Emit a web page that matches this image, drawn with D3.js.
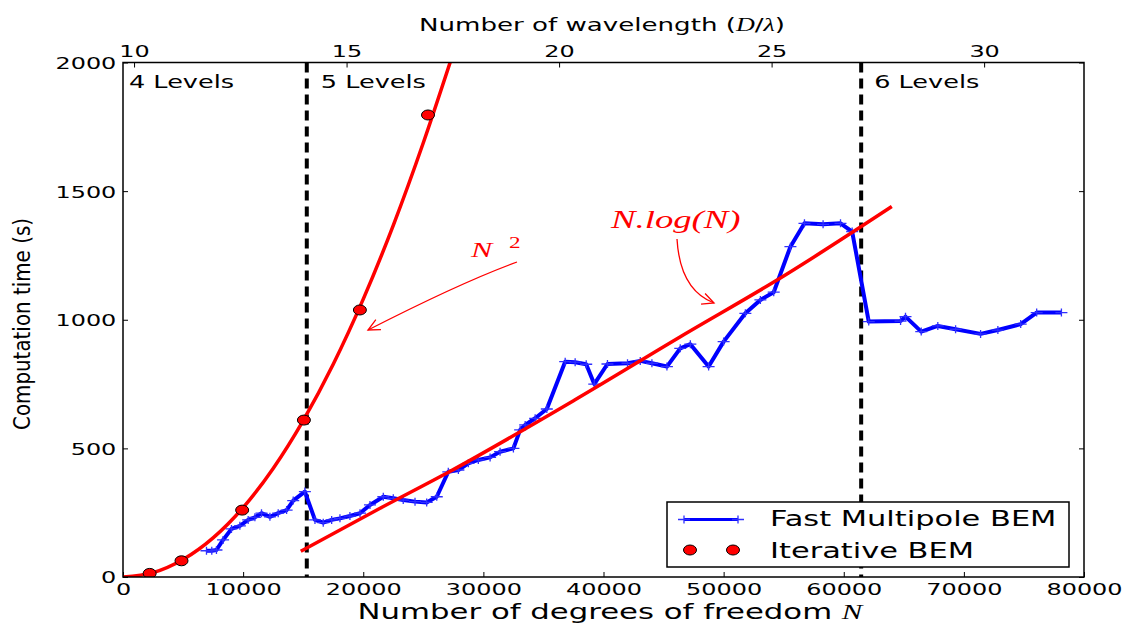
<!DOCTYPE html>
<html>
<head>
<meta charset="utf-8">
<script src="https://cdn.jsdelivr.net/npm/d3@7"></script>
<style>
  body { margin: 0; background: #fff; }
  text { font-family: "DejaVu Sans"; }
</style>
</head>
<body>
<svg id="chart" width="1129" height="625"></svg>
<script>
// Fast Multipole BEM timings (degrees of freedom, seconds)
var fmmN = [6950, 7390, 7780, 8330, 9030, 9730, 10420, 10980, 11530, 12230, 12920, 13620, 14170, 15140,
  15980, 16670, 17370, 18060, 18890, 19730, 20560, 21670, 22500, 23330, 24310, 25280, 26120,
  27080, 27920, 28750, 29580, 30560, 31390, 32500, 33060, 33480, 34310, 35280,
  36810, 37640, 38560, 39230, 40330, 42000, 43060, 44030, 45280, 46390, 47230, 48750,
  50000, 51810, 53060, 54170, 55560, 56730, 58280, 59730, 60700,
  62080, 64730, 65140, 66450, 67830, 69310, 71390, 72830, 74730, 76060, 78120];
var fmmTime = [102, 102, 105, 144, 187, 199, 222, 232, 248, 234, 248, 260, 297, 332,
  222, 211, 222, 228, 237, 248, 280, 312, 306, 299, 293, 290, 312,
  409, 416, 442, 455, 465, 487, 500, 572, 591, 617, 653,
  837, 835, 827, 750, 828, 831, 840, 831, 818, 889, 905, 818,
  915, 1025, 1077, 1107, 1284, 1375, 1371, 1375, 1343,
  993, 995, 1012, 954, 976, 963, 945, 960, 983, 1028, 1028];

// Iterative BEM timings
var iterN = [2220, 4870, 9920, 15060, 19720, 25390];
var iterTime = [14, 63, 260, 610, 1038, 1796];

// N^2 trend curve
var sqN = [0, 2500, 5000, 7500, 10000, 12500, 15000, 17500, 20000, 22500, 25000, 27300];
var sqTime = [0, 17, 68, 152, 270, 422, 608, 827, 1080, 1367, 1688, 2010];

// N.log(N) trend line
var nlN = [14800, 21400, 27200, 37600, 46400, 55000, 64000];
var nlTime = [100, 267, 410, 688, 934, 1170, 1440];

// octree level boundaries
var levelBounds = [15300, 61450];
var levelNames = ["4 Levels", "5 Levels", "6 Levels"];

var xTicks = [0, 10000, 20000, 30000, 40000, 50000, 60000, 70000, 80000];
var yTicks = [0, 500, 1000, 1500, 2000];
var waveTicks = [10, 15, 20, 25, 30];
var waveDomain = [9.74, 32.35];

var L = 123, R = 1084, T = 62.5, B = 577;
var SX = 1.45; // text in the picture is stretched horizontally

var svg = d3.select("#chart");

var x = d3.scaleLinear().domain([0, 80000]).range([L, R]);
var y = d3.scaleLinear().domain([0, 2000]).range([B, T]);
var xw = d3.scaleLinear().domain(waveDomain).range([L, R]);

svg.append("defs").append("clipPath").attr("id", "plotclip")
  .append("rect").attr("x", L).attr("y", T).attr("width", R - L).attr("height", B - T);

// axes
function styleAxis(g) {
  g.select(".domain").remove();
  g.attr("font-family", "DejaVu Sans").attr("font-size", 16.5).attr("color", "#000");
  g.selectAll(".tick line").attr("stroke-width", 1);
}

svg.append("g")
  .attr("transform", "translate(0," + B + ")")
  .call(d3.axisBottom(x).tickValues(xTicks).tickSize(-5).tickFormat(d3.format("d")))
  .call(styleAxis)
  .selectAll("text")
    .attr("y", 18.5).attr("dy", null)
    .attr("transform", "scale(" + SX + ",1)");

svg.append("g")
  .attr("transform", "translate(" + L + ",0)")
  .call(d3.axisLeft(y).tickValues(yTicks).tickSize(-5).tickFormat(d3.format("d")))
  .call(styleAxis)
  .selectAll("text")
    .attr("x", -4.6).attr("dy", "0.36em")
    .attr("transform", "scale(" + SX + ",1)");

svg.append("g")
  .attr("transform", "translate(" + R + ",0)")
  .call(d3.axisRight(y).tickValues(yTicks).tickSize(-5).tickFormat(""))
  .call(styleAxis);

svg.append("g")
  .attr("transform", "translate(0," + T + ")")
  .call(d3.axisTop(xw).tickValues(waveTicks).tickSize(-5).tickFormat(d3.format("d")))
  .call(styleAxis)
  .selectAll("text")
    .attr("y", -5.5).attr("dy", null)
    .attr("transform", "scale(" + SX + ",1)");

// axis titles
var bt = svg.append("text")
  .attr("transform", "translate(610,618.5) scale(1.5,1)")
  .attr("text-anchor", "middle")
  .style("font-size", "20.5px");
bt.append("tspan").text("Number of degrees of freedom ");
bt.append("tspan").style("font-family", "Liberation Serif").style("font-style", "italic").text("N");

var tt = svg.append("text")
  .attr("transform", "translate(602,30.5) scale(" + SX + ",1)")
  .attr("text-anchor", "middle")
  .style("font-size", "18px");
tt.append("tspan").text("Number of wavelength (");
tt.append("tspan").style("font-family", "Liberation Serif").style("font-style", "italic").text("D");
tt.append("tspan").text("/");
tt.append("tspan").style("font-family", "Liberation Serif").style("font-style", "italic").text("λ");
tt.append("tspan").text(")");

svg.append("text")
  .attr("transform", "translate(30,324) scale(1.3,1) rotate(-90)")
  .attr("text-anchor", "middle")
  .attr("textLength", 212).attr("lengthAdjust", "spacingAndGlyphs")
  .style("font-size", "18px")
  .text("Computation time (s)");

// level boundaries
svg.selectAll(".bound")
  .data(levelBounds)
  .enter().append("line")
    .attr("class", "bound")
    .attr("x1", function(d) { return x(d); })
    .attr("x2", function(d) { return x(d); })
    .attr("y1", T).attr("y2", B)
    .attr("stroke", "#000")
    .attr("stroke-width", 4)
    .attr("stroke-dasharray", "10,6");

var labelX = [L + 6, x(levelBounds[0]) + 14, x(levelBounds[1]) + 13];
svg.selectAll(".lvl")
  .data(levelNames)
  .enter().append("text")
    .attr("class", "lvl")
    .attr("transform", function(d, i) { return "translate(" + labelX[i] + ",88) scale(1.42,1)"; })
    .style("font-size", "18px")
    .text(function(d) { return d; });

var plot = svg.append("g").attr("clip-path", "url(#plotclip)");

// fast multipole line
var fmm = fmmN.map(function(n, i) { return [n, fmmTime[i]]; });
var line = d3.line().x(function(d) { return x(d[0]); }).y(function(d) { return y(d[1]); });

plot.append("path")
  .datum(fmm)
  .attr("d", line)
  .attr("fill", "none")
  .attr("stroke", "#0000ff")
  .attr("stroke-width", 4)
  .attr("stroke-linejoin", "round");

plot.selectAll(".plus")
  .data(fmm)
  .enter().append("path")
    .attr("class", "plus")
    .attr("d", function(d) { return "M" + (x(d[0]) - 6) + "," + y(d[1]) + "h12M" + x(d[0]) + "," + (y(d[1]) - 4) + "v8"; })
    .attr("stroke", "#3030ff")
    .attr("stroke-width", 1.3);

// trend curves
var sq = sqN.map(function(n, i) { return [n, sqTime[i]]; });
plot.append("path")
  .datum(sq)
  .attr("d", line.curve(d3.curveMonotoneX))
  .attr("fill", "none")
  .attr("stroke", "#ff0000")
  .attr("stroke-width", 3.5);

var nl = nlN.map(function(n, i) { return [n, nlTime[i]]; });
plot.append("path")
  .datum(nl)
  .attr("d", line.curve(d3.curveMonotoneX))
  .attr("fill", "none")
  .attr("stroke", "#ff0000")
  .attr("stroke-width", 3.5);

// iterative BEM points
plot.selectAll(".iter")
  .data(iterN)
  .enter().append("ellipse")
    .attr("class", "iter")
    .attr("cx", function(d) { return x(d); })
    .attr("cy", function(d, i) { return y(iterTime[i]); })
    .attr("rx", 6.5).attr("ry", 5)
    .attr("fill", "#ff0000")
    .attr("stroke", "#000")
    .attr("stroke-width", 1);

// frame
svg.append("rect")
  .attr("x", L).attr("y", T).attr("width", R - L).attr("height", B - T)
  .attr("fill", "none").attr("stroke", "#000").attr("stroke-width", 1.5);

// annotations
function arrow(p0, c, p1) {
  svg.append("path")
    .attr("d", "M" + p0 + "Q" + c + " " + p1)
    .attr("fill", "none").attr("stroke", "#ff0000").attr("stroke-width", 1.3);
  var a = Math.atan2(p1[1] - c[1], p1[0] - c[0]);
  var len = 13, spread = 0.45;
  var h1 = [p1[0] - len * Math.cos(a - spread), p1[1] - len * Math.sin(a - spread)];
  var h2 = [p1[0] - len * Math.cos(a + spread), p1[1] - len * Math.sin(a + spread)];
  svg.append("path")
    .attr("d", "M" + h1 + "L" + p1 + "L" + h2)
    .attr("fill", "none").attr("stroke", "#ff0000").attr("stroke-width", 1.3);
}

svg.append("text")
  .attr("transform", "translate(471,257) scale(" + SX + ",1)")
  .style("font-family", "Liberation Serif").style("font-style", "italic")
  .style("font-size", "22px").attr("fill", "#ff0000")
  .text("N");
svg.append("text")
  .attr("transform", "translate(509,248) scale(" + SX + ",1)")
  .style("font-family", "Liberation Serif")
  .style("font-size", "16px").attr("fill", "#ff0000")
  .text("2");
arrow([517, 262], [462, 282], [368, 330]);

svg.append("text")
  .attr("transform", "translate(611,228) scale(1.47,1)")
  .style("font-family", "Liberation Serif").style("font-style", "italic")
  .style("font-size", "25px").attr("fill", "#ff0000")
  .text("N.log(N)");
arrow([677, 239], [680, 290], [714, 303]);

// legend
var lg = svg.append("g");
lg.append("rect")
  .attr("x", 667).attr("y", 502).attr("width", 402).attr("height", 65)
  .attr("fill", "#fff").attr("stroke", "#000").attr("stroke-width", 1.5);
lg.append("line")
  .attr("x1", 684).attr("x2", 738).attr("y1", 519.5).attr("y2", 519.5)
  .attr("stroke", "#0000ff").attr("stroke-width", 3);
[684, 738].forEach(function(px) {
  lg.append("path")
    .attr("d", "M" + (px - 6) + ",519.5h12M" + px + ",515.5v8")
    .attr("stroke", "#3030ff").attr("stroke-width", 1.3);
});
[690, 733].forEach(function(px) {
  lg.append("ellipse")
    .attr("cx", px).attr("cy", 550).attr("rx", 6.5).attr("ry", 5)
    .attr("fill", "#ff0000").attr("stroke", "#000").attr("stroke-width", 1);
});
lg.append("text")
  .attr("transform", "translate(770,526) scale(" + SX + ",1)")
  .style("font-size", "21px")
  .text("Fast Multipole BEM");
lg.append("text")
  .attr("transform", "translate(770,557.5) scale(" + SX + ",1)")
  .style("font-size", "21px")
  .text("Iterative BEM");
</script>
</body>
</html>
